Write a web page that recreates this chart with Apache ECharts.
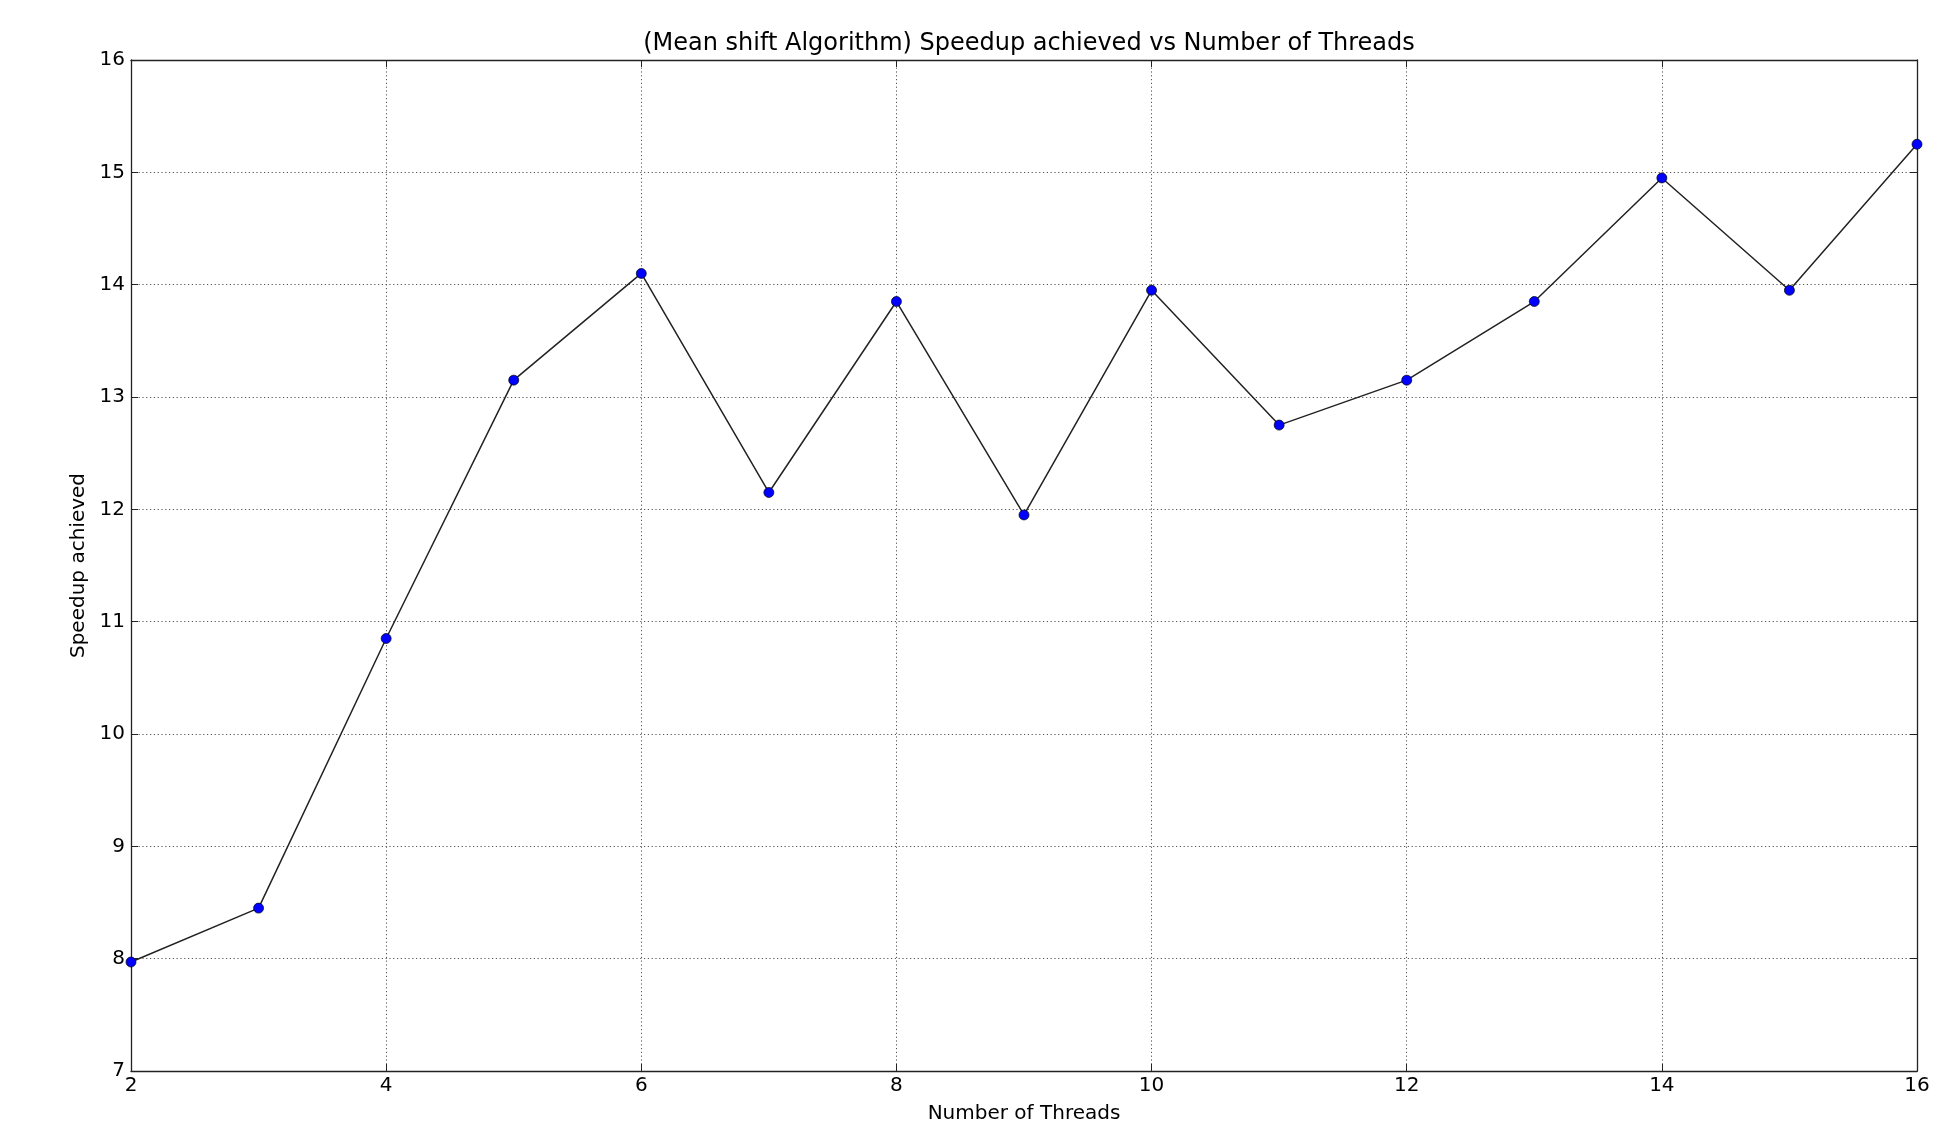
<!DOCTYPE html>
<html>
<head>
<meta charset="utf-8">
<title>Mean shift speedup</title>
<script src="https://cdn.jsdelivr.net/npm/echarts@6/dist/echarts.min.js"></script>
<style>
  html, body { margin: 0; padding: 0; background: #fff; }
  #chart { width: 1956px; height: 1123px; }
</style>
</head>
<body>
<div id="chart"></div>
<script>
// Thread counts and measured speedup for the mean shift run
const threads = [2, 3, 4, 5, 6, 7, 8, 9, 10, 11, 12, 13, 14, 15, 16];
const speedup = [7.97, 8.45, 10.85, 13.15, 14.1, 12.15, 13.85, 11.95, 13.95, 12.75, 13.15, 13.85, 14.95, 13.95, 15.25];

const titleText = '(Mean shift Algorithm) Speedup achieved vs Number of Threads';
const xName = 'Number of Threads';
const yName = 'Speedup achieved';

const FONT = 'DejaVu Sans';
const frameLine = { show: true, lineStyle: { color: '#222', width: 1.3 } };
const gridLine = { show: true, lineStyle: { color: '#555', width: 1, type: [1.2, 2.6] } };
const tickIn = { show: true, inside: true, length: 7, lineStyle: { color: '#222', width: 1 } };

const chart = echarts.init(document.getElementById('chart'), null, { renderer: 'canvas' });

chart.setOption({
  animation: false,
  backgroundColor: '#fff',
  title: {
    text: titleText,
    left: 1024,
    textAlign: 'center',
    top: 27,
    textStyle: { fontFamily: FONT, fontSize: 24, fontWeight: 'normal', color: '#000' }
  },
  grid: { left: 131, right: 39, top: 60, bottom: 52, containLabel: false, outerBoundsMode: 'none' },
  xAxis: [
    {
      type: 'value', min: 2, max: 16, interval: 2,
      name: xName, nameLocation: 'middle', nameGap: 33,
      nameTextStyle: { fontFamily: FONT, fontSize: 20, color: '#000' },
      axisLine: frameLine, axisTick: tickIn, splitLine: gridLine,
      axisLabel: { fontFamily: FONT, fontSize: 20, color: '#000', margin: 5 }
    },
    {
      type: 'value', position: 'top', min: 2, max: 16, interval: 2,
      axisLine: frameLine, axisTick: tickIn, splitLine: { show: false },
      axisLabel: { show: false }
    }
  ],
  yAxis: [
    {
      type: 'value', min: 7, max: 16, interval: 1,
      name: yName, nameLocation: 'middle', nameGap: 40,
      nameTextStyle: { fontFamily: FONT, fontSize: 20, color: '#000' },
      axisLine: frameLine, axisTick: tickIn, splitLine: gridLine,
      axisLabel: { fontFamily: FONT, fontSize: 20, color: '#000', margin: 6 }
    },
    {
      type: 'value', position: 'right', min: 7, max: 16, interval: 1,
      axisLine: frameLine, axisTick: tickIn, splitLine: { show: false },
      axisLabel: { show: false }
    }
  ],
  series: [
    {
      type: 'line',
      xAxisIndex: 0, yAxisIndex: 0,
      data: threads.map((t, i) => [t, speedup[i]]),
      symbol: 'circle',
      symbolSize: 10,
      showAllSymbol: true,
      clip: true,
      lineStyle: { color: '#222', width: 1.5 },
      itemStyle: { color: '#0000ff', borderColor: '#000', borderWidth: 0.7 }
    }
  ]
});
</script>
</body>
</html>
